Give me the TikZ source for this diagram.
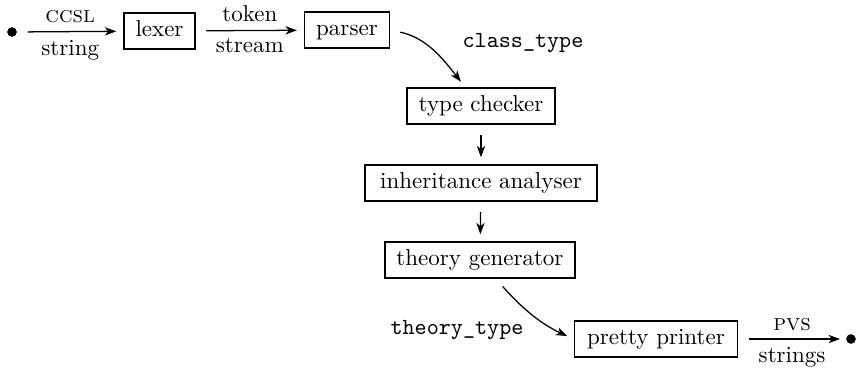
\documentclass[tikz,border=0pt]{standalone}
\usepackage{tikz}
\usetikzlibrary{positioning, arrows.meta}
\tikzset{
    stage/.style = {draw, line width=0.7pt, inner xsep=5pt, inner ysep=3.3pt,
        text height=7pt, text depth=2pt},
    endpoint/.style = {circle, fill, inner sep=0pt, minimum size=4.2pt},
    flow/.style = {draw, line width=0.55pt, shorten <=4.5pt, shorten >=3pt,
        -{Stealth[length=5pt, width=3.6pt, inset=1.5pt]}},
}

\begin{document}
\begin{tikzpicture}[x=0.4346pt, y=-0.4346pt]
            \useasboundingbox (0, 0) rectangle (856, 368);

            \node[endpoint] (in) at (12, 32) {};
            \node[stage] (lexer) at (159.5, 31) {lexer};
            \node[stage] (parser) at (347, 30) {parser};

            \node[stage] (checker) at (481, 106) {type checker};
            \node[stage, minimum width=101pt] (analyser) at (481, 183) {inheritance analyser};
            \node[stage] (generator) at (480, 260) {theory generator};

            \node[stage, minimum width=71pt] (printer) at (656, 339) {pretty printer};
            \node[endpoint] (out) at (851, 339) {};

            \node (classtype) at (523, 43) {\texttt{class\_type}};
            \node (theorytype) at (457, 330) {\texttt{theory\_type}};

            \draw[flow] (in) -- node[above] {\textsc{ccsl}} node[below] {string} (lexer);
            \draw[flow] (lexer) -- node[above] {token} node[below] {stream} (parser);
            \draw[flow] (parser.east) to[out=-12, in=128] (checker.130);
            \draw[flow] (checker) -- (analyser);
            \draw[flow] (analyser) -- (generator);
            \draw[flow] (generator.-50) to[out=-48, in=155] (printer.west);
            \draw[flow, shorten >=2.5pt] (printer) -- node[above] {\textsc{pvs}} node[below] {strings} (out);
        \end{tikzpicture}
\end{document}
